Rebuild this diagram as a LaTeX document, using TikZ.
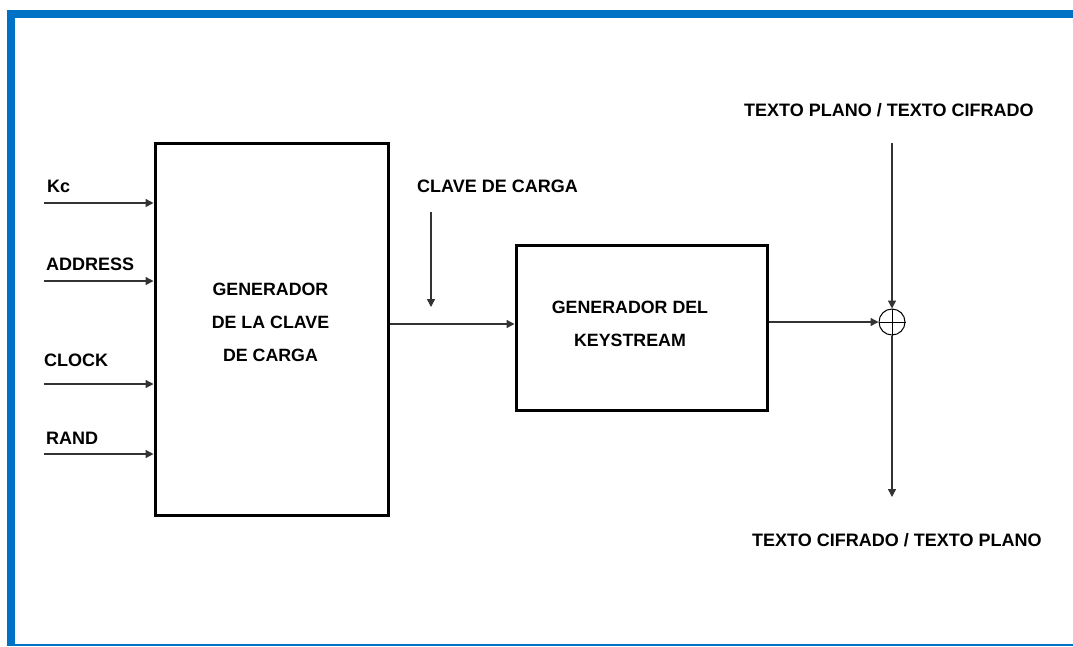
\documentclass[tikz,border=0pt]{standalone}
\usepackage{fontspec}
\setmainfont{Liberation Sans}
\usetikzlibrary{arrows.meta}
\definecolor{frameblue}{HTML}{0072C6}
\begin{document}
\begin{tikzpicture}[x=1pt,y=-1pt,
  blockbox/.style={draw=black, line width=3pt, inner sep=0pt},
  lbl/.style={font=\bfseries\fontsize{18}{20}\selectfont, inner sep=0pt, anchor=base west},
  blocktext/.style={font=\bfseries\fontsize{17.8}{33}\selectfont, inner sep=0pt, align=center},
  conn/.style={draw=black!80, line width=1.4pt, -{Triangle[length=8pt,width=8pt]}},
]
\useasboundingbox (0,0) rectangle (1073,646);
% frame
\fill[frameblue] (7,10) rectangle (1073,17.5);
\fill[frameblue] (7,10) rectangle (15,646);
\fill[frameblue] (7,644) rectangle (1073,646);

% blocks
\node[blockbox, minimum width=233pt, minimum height=372pt] (gen) at (271.5,329) {};
\node[blocktext] (gentxt) at (270.5,322) {GENERADOR\\DE LA CLAVE\\DE CARGA};
\node[blockbox, minimum width=251pt, minimum height=165pt] (ks) at (641.5,327.5) {};
\node[blocktext] (kstxt) at (630,324) {GENERADOR DEL\\KEYSTREAM};

% inputs
\node[lbl] (lkc) at (47,192) {Kc};
\node[lbl] (laddr) at (46,270) {ADDRESS};
\node[lbl] (lclk) at (44,366) {CLOCK};
\node[lbl] (lrand) at (46,444) {RAND};
\coordinate (kc) at (44,203);
\coordinate (addr) at (44,281);
\coordinate (clk) at (44,384);
\coordinate (rand) at (44,454);
\draw[conn] (kc) -- (kc -| gen.west);
\draw[conn] (addr) -- (addr -| gen.west);
\draw[conn] (clk) -- (clk -| gen.west);
\draw[conn] (rand) -- (rand -| gen.west);

% load key
\coordinate (g2k) at (388,324);
\draw[conn] (g2k -| gen.east) -- (g2k -| ks.west);
\node[lbl] (lclave) at (417,192) {CLAVE DE CARGA};
\coordinate (clavetop) at (431,212);
\coordinate (clavebot) at (431,307);
\draw[conn] (clavetop) -- (clavebot);

% xor
\node[draw, circle, line width=1pt, minimum size=26pt, inner sep=0pt] (xor) at (892,322) {};
\draw[line width=1pt] (xor.north) -- (xor.south) (xor.west) -- (xor.east);
\draw[conn] (xor -| ks.east) -- (xor.west);
\coordinate (ptop) at (892,143);
\coordinate (pbot) at (892,497);
\draw[conn] (ptop) -- (xor.north);
\draw[conn] (xor.south) -- (pbot);
\node[lbl] (lin) at (744,116) {TEXTO PLANO / TEXTO CIFRADO};
\node[lbl] (lout) at (752,546) {TEXTO CIFRADO / TEXTO PLANO};
\end{tikzpicture}
\end{document}
